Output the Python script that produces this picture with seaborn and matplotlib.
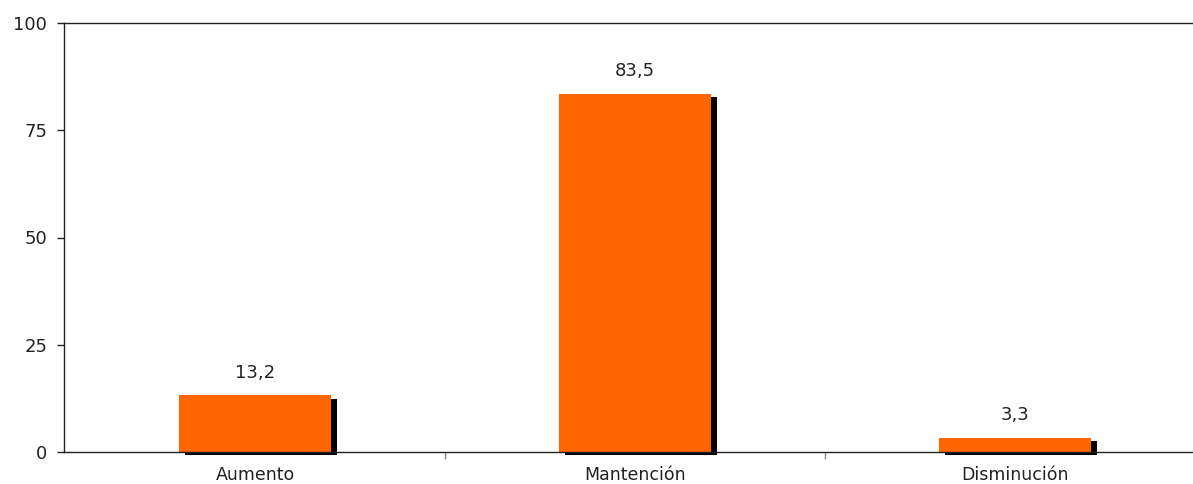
import matplotlib
matplotlib.use('Agg')
import matplotlib.pyplot as plt
import matplotlib.patheffects as pe
import seaborn as sns
import pandas as pd

# Values
categorias = ['Aumento', 'Mantención', 'Disminución']
porcentajes = [13.2, 83.5, 3.3]
y_ticks = [0, 25, 50, 75, 100]

df = pd.DataFrame({'categoria': categorias, 'valor': porcentajes})

sns.set_style('white')
plt.rcParams['font.family'] = ['DejaVu Sans']

fig = plt.figure(figsize=(11.93, 4.84), dpi=100)
ax = fig.add_axes([64 / 1193, 1 - 452 / 484, 1 - 64 / 1193, (452 - 23) / 484])

sns.barplot(data=df, x='categoria', y='valor', color='#FF6600', width=0.4,
            saturation=1, ax=ax)

# black drop shadow on each bar
for bar in ax.patches:
    bar.set_linewidth(0)
    bar.set_clip_on(False)
    bar.set_zorder(3)
    bar.set_path_effects([pe.SimplePatchShadow(offset=(4, -2.5), shadow_rgbFace='black', alpha=1),
                          pe.Normal()])

for i, v in enumerate(porcentajes):
    ax.text(i, v + 3.2, f'{v:.1f}'.replace('.', ','), ha='center', va='bottom',
            fontsize=13, color='#222222')

ax.set_ylim(0, 100)
ax.set_xlim(-0.503, 2.468)
ax.set_yticks(y_ticks)
ax.set_yticklabels([str(t) for t in y_ticks], fontsize=13, color='#222222')

# category ticks sit at the boundaries between groups
ax.set_xticks([0, 1, 2])
ax.set_xticklabels(categorias, fontsize=12.5, color='#222222')
ax.tick_params(axis='x', which='major', length=0, pad=10)
ax.set_xticks([0.5, 1.5], minor=True)
ax.tick_params(axis='x', which='minor', bottom=True, length=5, width=1,
               color='#888888', direction='out')
ax.tick_params(axis='y', length=5, width=1, color='#222222', direction='out', left=True, pad=7)

ax.set_xlabel('')
ax.set_ylabel('')
for side in ['left', 'bottom', 'top']:
    ax.spines[side].set_visible(True)
    ax.spines[side].set_color('#222222')
    ax.spines[side].set_linewidth(1)
    ax.spines[side].set_zorder(4)
ax.spines['right'].set_visible(False)

fig.savefig('out.png', dpi=100)
